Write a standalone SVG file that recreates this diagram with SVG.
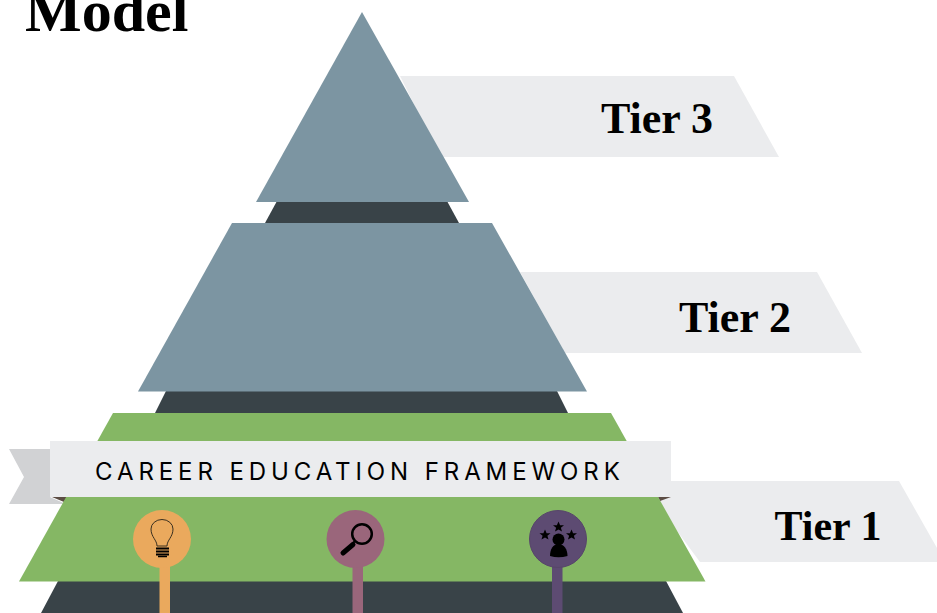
<svg xmlns="http://www.w3.org/2000/svg" width="937" height="613" viewBox="0 0 937 613">
<defs><polygon id="star" points="0,-5.500 1.600,-1.800 5.500,-1.700 2.400,.8 3.500,4.600 0,2.500 -3.500,4.600 -2.400,.8 -5.500,-1.700 -1.600,-1.800"/></defs>
<style>
.tier{font-family:"Liberation Serif","DejaVu Serif",serif;font-weight:700;font-size:44px;fill:#000}
.rib{fill:#ebecee}
.slate{fill:#7c95a2}
.dark{fill:#394348}
.green{fill:#85b764}
.brown{fill:#5c4d44}
</style>
<rect width="937" height="613" fill="#fff"/>
<text x="25" y="31" font-family="'Liberation Serif',serif" font-weight="700" font-size="60" fill="#000">Model</text>
<g id="tier3"><polygon class="rib" points="400,76 734,76 779,157 440,157"/><polygon class="dark" points="277,201 447,201 459,223 265,223"/><polygon class="slate" points="362,12 469,202 256,202"/><text class="tier" x="657" y="133" text-anchor="middle">Tier 3</text></g>
<g id="tier2"><polygon class="rib" points="520,272 817,272 862,353 565,353"/><polygon class="dark" points="166,391 557,391 568,413 155,413"/><polygon class="slate" points="232,223 492,223 587,391.500 138,391.500"/><text class="tier" x="735" y="332" text-anchor="middle">Tier 2</text></g>
<g id="tier1"><polygon class="rib" points="640,481 899,481 937,548 937,562 700,562"/><polygon class="dark" points="58,581 666,581 683,613 41,613"/>
<polygon points="9,449 50,449 50,497 66,504 9,504 24,477" fill="#d1d2d4"/>
<polygon class="brown" points="52,497 67,497 64,502"/><polygon class="brown" points="658,497 671,497 660,501"/>
<polygon class="green" points="113,413 611,413 705.500,581.500 19,581.500"/><text x="828" y="540" text-anchor="middle" font-family="'Liberation Serif',serif" font-weight="700" font-size="42" fill="#000">Tier 1</text></g>
<g id="connectors">
<rect x="159.500" y="560" width="10.500" height="53" fill="#eaa95d"/>
<rect x="352.500" y="560" width="10.500" height="53" fill="#9a667b"/>
<rect x="552" y="560" width="10.500" height="53" fill="#5d4b72"/>
</g>
<g id="banner"><rect x="50" y="441" width="621" height="56" class="rib"/><text x="95" y="480" font-family="Inter,'Liberation Sans',sans-serif" font-size="24" letter-spacing="4.900" fill="#000">CAREER EDUCATION FRAMEWORK</text></g>
<g id="pin-bulb"><circle cx="162" cy="539" r="29" fill="#eaa95d"/>
<path d="M157 546C157 540 151 537 151 529A11 9.500 0 0 1 173 529C173 537 167 540 167 546Z" fill="none" stroke="#3a3020" stroke-width="1"/>
<path d="M156 548.500H169M156 551.500H169M156 554.500H169" stroke="#000" stroke-width="2.200"/><path d="M158 556.500H167" stroke="#000" stroke-width="1.500"/></g>
<g id="pin-search"><circle cx="355.500" cy="539" r="29" fill="#9a667b"/><circle cx="362" cy="534" r="9.800" fill="none" stroke="#000" stroke-width="2.500"/><path d="M355 541L351 545" stroke="#000" stroke-width="2"/><path d="M343 553L353 544.500" stroke="#000" stroke-width="5" stroke-linecap="round"/></g>
<g id="pin-stars"><circle cx="558" cy="539" r="28.500" fill="#5d4b72" stroke="#574669"/>
<circle cx="558.500" cy="539.500" r="6" fill="#000"/><path d="M550 556C550 549 553 544 558.500 544C564 544 567.500 549 567.500 556Q558.500 558.500 550 556Z" fill="#000"/>
<use href="#star" x="558.500" y="527"/><use href="#star" x="545" y="535"/><use href="#star" x="571.500" y="535"/></g>
</svg>
